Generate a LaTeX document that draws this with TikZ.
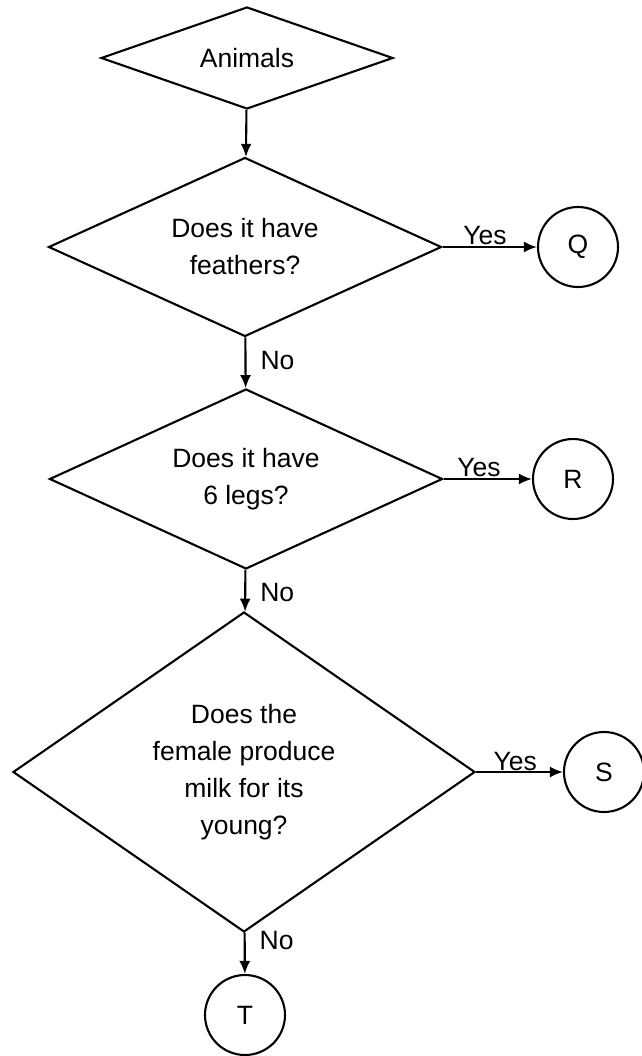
\documentclass[tikz,border=0pt]{standalone}
\usepackage{fontspec}
\setmainfont{Liberation Sans}
\usetikzlibrary{arrows.meta,shapes.geometric,positioning}

\begin{document}
\begin{tikzpicture}[x=1pt,y=-1pt,
  txt/.style={font=\fontsize{26.5}{37}\selectfont},
  dec/.style={diamond,draw,line width=2.1pt,inner sep=0pt,align=center,txt},
  leaf/.style={circle,draw,line width=2.1pt,minimum size=80pt,inner sep=0pt,txt},
  arr/.style={-{Latex[length=13pt,width=11pt]},line width=2.1pt},
  lbl/.style={txt,inner sep=1pt}]
  \useasboundingbox (0,0) rectangle (641,1056);
  \node[dec,minimum width=292pt,minimum height=102pt,aspect=2.86] (animals) at (247,58) {Animals};
  \node[dec,minimum width=393pt,minimum height=179pt,aspect=2.2] (feath) at (245,247) {Does it have\\feathers?};
  \node[dec,minimum width=393pt,minimum height=180pt,aspect=2.2] (legs) at (246,479) {Does it have\\6 legs?};
  \node[dec,minimum width=462pt,minimum height=320pt,aspect=1.44] (milk) at (244,772) {Does the\\female produce\\milk for its\\young?};
  \node[leaf] (q) at (578,247) {Q};
  \node[leaf] (r) at (573,479) {R};
  \node[leaf] (s) at (604,772) {S};
  \node[leaf] (t) at (245,1015) {T};
  \draw[arr] (animals) -- (feath);
  \draw[arr] (feath) -- node[lbl,pos=0.45,right=13pt] {No} (legs);
  \draw[arr] (legs) -- node[lbl,pos=0.55,right=13pt] {No} (milk);
  \draw[arr] (milk) -- node[lbl,pos=0.2,right=13pt] {No} (t);
  \draw[arr] (feath.east) -- node[lbl,pos=0.45,above] {Yes} (q.west);
  \draw[arr] (legs.east) -- node[lbl,pos=0.4,above] {Yes} (r.west);
  \draw[arr] (milk.east) -- node[lbl,pos=0.45,above,inner sep=0pt] {Yes} (s.west);
\end{tikzpicture}
\end{document}
